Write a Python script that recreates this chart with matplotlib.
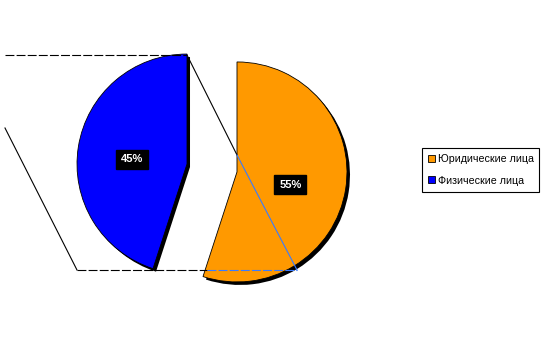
import matplotlib.pyplot as plt
from matplotlib.patches import Patch

# data
labels = ['Юридические лица', 'Физические лица']
shares = [55, 45]
colors = ['#FF9900', '#0000FF']

W, H = 550, 339


def py(y_px):
    # pixel row -> data y (axes use pixel-like units)
    return H - y_px


fig = plt.figure(figsize=(5.5, 3.39), dpi=100)
ax = fig.add_axes([0, 0, 1, 1])

center = (212, py(168))
radius = 110
explode = [25.3, 25.3]

# black "depth" copy underneath
ax.pie(shares, colors=['black', 'black'], startangle=90, counterclock=False,
       center=(center[0] + 3, center[1] - 3), radius=radius, explode=explode,
       wedgeprops=dict(linewidth=0))

wedges, texts, autotexts = ax.pie(
    shares, colors=colors, startangle=90, counterclock=False,
    center=center, radius=radius, explode=explode,
    autopct='%1.0f%%', pctdistance=0.5,
    wedgeprops=dict(linewidth=0.6, edgecolor='black'))

for t in autotexts:
    t.set_color('white')
    t.set_fontweight('bold')
    t.set_fontsize(8)
    t.set_family('Liberation Sans')
    t.set_bbox(dict(facecolor='black', edgecolor='black', pad=3.5))
    t.set_zorder(10)
    x, y = t.get_position()
    t.set_position((x - 1, y - 4))

# pie-of-pie connector frame
ax.plot([5, 187], [py(55), py(55)], color='black', lw=0.8, ls=(0, (8, 2)), zorder=5)
ax.plot([187, 237], [py(55), py(155)], color='black', lw=0.8, zorder=5)
ax.plot([237, 297], [py(155), py(270)], color='#3A7BFF', lw=0.8, zorder=5)
ax.plot([77, 207], [py(270), py(270)], color='black', lw=0.8, ls=(0, (8, 2)), zorder=5)
ax.plot([207, 297], [py(270), py(270)], color='#3A7BFF', lw=0.8, ls=(0, (8, 2)), zorder=5)
ax.plot([5, 77], [py(128), py(270)], color='black', lw=0.8, zorder=5)

ax.set_xlim(0, W)
ax.set_ylim(0, H)
ax.set_aspect('equal')
ax.axis('off')

handles = [Patch(facecolor=c, edgecolor='black', linewidth=0.6) for c in colors]
leg = ax.legend(handles, labels, loc='upper left',
                bbox_to_anchor=(422 / W, 1 - 148 / H),
                prop={'family': 'Liberation Sans', 'size': 7.7},
                fancybox=False, framealpha=1, edgecolor='black',
                handlelength=0.65, handleheight=0.65, handletextpad=0.25,
                labelspacing=1.1, borderpad=0.55, borderaxespad=0)
leg.get_frame().set_linewidth(0.8)

fig.savefig('out.png', dpi=100, facecolor='white')
